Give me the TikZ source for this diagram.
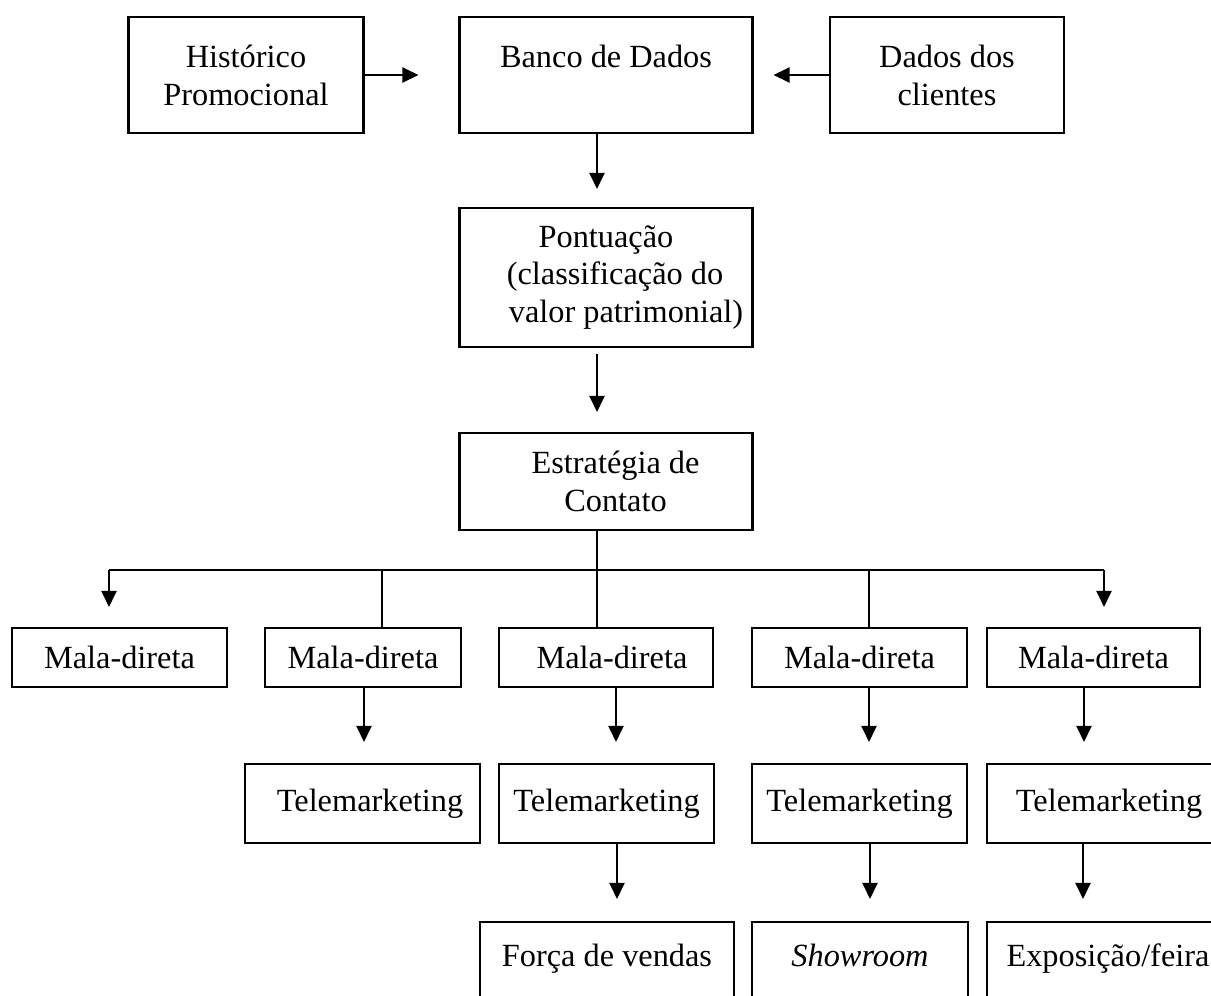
\documentclass[tikz,border=0pt]{standalone}
\usepackage{fontspec}
\setmainfont{Liberation Serif}
\usetikzlibrary{arrows.meta}

\begin{document}
\begin{tikzpicture}[x=0.02cm, y=-0.02cm,
    box/.style={draw, line width=1.2pt, align=center, inner sep=0pt,
        minimum height=1.58cm, font=\fontsize{18.4}{21.6}\selectfont},
    mala/.style={box, minimum height=1.18cm},
    endbox/.style={box, text height=0.85em, text depth=0.25em},
    arr/.style={-{Triangle[length=0.32cm,width=0.3cm]}, line width=1.2pt},
    link/.style={line width=1.2pt}]
    \useasboundingbox (0,0) rectangle (1211,995);

    % Sources and data base
    \node[box, minimum width=4.7cm, minimum height=2.32cm] (hist) at (246,75) {Histórico\\Promocional};
    \node[box, minimum width=5.86cm, minimum height=2.32cm] (banco) at (606,75) {Banco de Dados\\~};
    \node[box, minimum width=4.68cm, minimum height=2.32cm] (dados) at (947,75) {Dados dos\\clientes};
    \draw[arr, shorten >=0.8cm] (hist) -- (banco);
    \draw[arr, shorten >=0.4cm] (dados) -- (banco);

    % Scoring and strategy
    \node[box, minimum width=5.86cm, minimum height=2.78cm] (pont) at (606,277.5)
        {Pontuação\\\hspace*{0.36cm}(classificação do\\\hspace*{0.8cm}valor patrimonial)};
    \node[box, minimum width=5.86cm, minimum height=1.94cm] (estr) at (606,481.5)
        {\hspace*{0.38cm}Estratégia de\\\hspace*{0.38cm}Contato};
    \coordinate (spine) at (597,570);
    \draw[arr, shorten >=0.36cm] (banco.south -| spine) -- (pont.north -| spine);
    \draw[arr, shorten <=0.12cm, shorten >=0.4cm] (pont.south -| spine) -- (estr.north -| spine);

    % Contact channels
    \node[mala, minimum width=4.3cm] (mala1) at (119.5,657.5) {Mala-direta};
    \node[mala, minimum width=3.92cm] (mala2) at (363,657.5) {Mala-direta};
    \node[mala, minimum width=4.28cm] (mala3) at (606,657.5) {\hspace*{0.24cm}Mala-direta};
    \node[mala, minimum width=4.3cm] (mala4) at (859.5,657.5) {Mala-direta};
    \node[mala, minimum width=4.26cm] (mala5) at (1093.5,657.5) {Mala-direta};

    \node[box, minimum width=4.7cm] (tele2) at (362.5,803.5) {\hspace*{0.3cm}Telemarketing};
    \node[box, minimum width=4.3cm] (tele3) at (606.5,803.5) {Telemarketing};
    \node[box, minimum width=4.3cm] (tele4) at (859.5,803.5) {Telemarketing};
    \node[box, minimum width=4.88cm] (tele5) at (1109,803.5) {Telemarketing};

    \node[endbox, minimum width=5.08cm] (forca) at (607,961.5) {Força de vendas};
    \node[endbox, minimum width=4.32cm] (showroom) at (860,961.5) {\textit{Showroom}};
    \node[endbox, minimum width=4.84cm] (expo) at (1108,961.5) {Exposição/feira};

    % Distribution bus
    \coordinate (b1) at (109,570);
    \coordinate (b2) at (382,570);
    \coordinate (b4) at (869,570);
    \coordinate (b5) at (1104,570);
    \draw[link] (estr.south -| spine) -- (spine);
    \draw[link] (b1) -- (b5);
    \draw[arr, shorten >=0.4cm] (b1) -- (b1 |- mala1.north);
    \draw[arr, shorten >=0.4cm] (b5) -- (b5 |- mala5.north);
    \draw[link] (b2) -- (b2 |- mala2.north);
    \draw[link] (spine) -- (spine |- mala3.north);
    \draw[link] (b4) -- (b4 |- mala4.north);

    % Follow-up steps
    \foreach \a/\b/\x in {mala2/tele2/364, mala3/tele3/616, mala4/tele4/869, mala5/tele5/1084} {
        \coordinate (t) at (\x,0);
        \draw[arr, shorten >=0.42cm] (\a.south -| t) -- (\b.north -| t);
    }
    \foreach \a/\b/\x in {tele3/forca/617, tele4/showroom/870, tele5/expo/1083} {
        \coordinate (t) at (\x,0);
        \draw[arr, shorten >=0.44cm] (\a.south -| t) -- (\b.north -| t);
    }
\end{tikzpicture}
\end{document}
